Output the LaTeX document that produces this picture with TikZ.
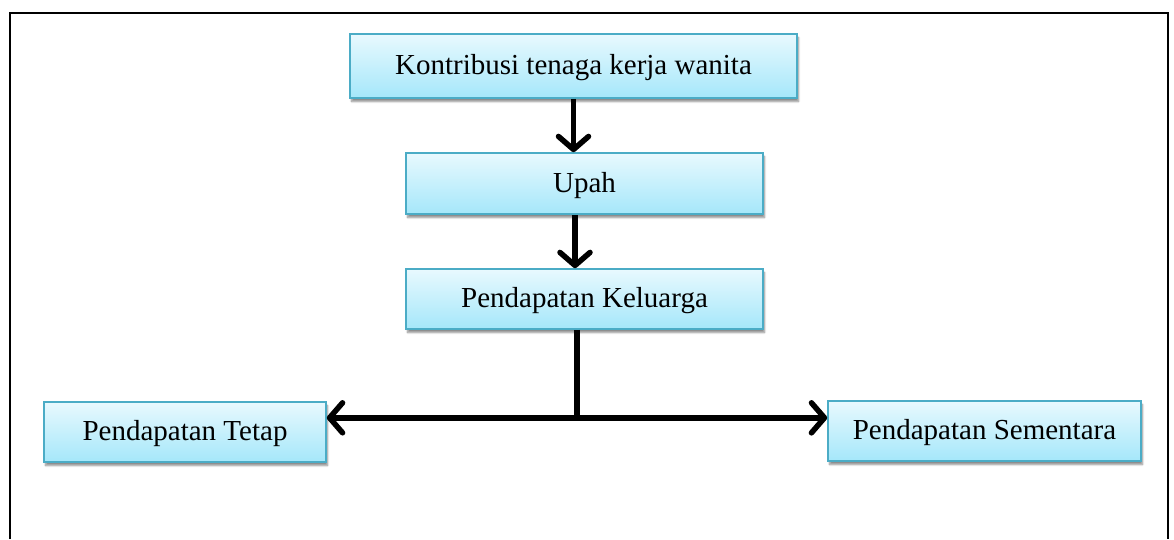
\documentclass[tikz,border=0pt]{standalone}
\usepackage{fontspec}
\setmainfont{Liberation Serif}
\usetikzlibrary{arrows.meta,shadows.blur,calc}
\definecolor{boxtop}{RGB}{232,249,254}
\definecolor{boxbot}{RGB}{165,231,250}
\definecolor{boxline}{RGB}{75,172,198}
\newcommand{\lowtext}[1]{\raisebox{-2pt}[\height][\depth]{#1}}
\tikzset{
  flowbox/.style={draw=boxline, line width=1.6pt, top color=boxtop, bottom color=boxbot,
    inner sep=0pt, font=\fontsize{29}{34}\selectfont, text=black,
    blur shadow={shadow xshift=1.5pt, shadow yshift=-3.5pt, shadow blur steps=6, shadow opacity=45}},
  conn/.style={line width=5.5pt, black},
  tip/.style={-{Straight Barb[length=13pt,width=30pt,line width=5.5pt,round]}},
  frameline/.style={line width=2.6pt, black}
}
\begin{document}
\begin{tikzpicture}[x=1pt,y=-1pt]
\useasboundingbox (0,0) rectangle (1174,539);
\draw[frameline] (10,539) -- (10,13) -- (1168,13) -- (1168,539);
\node[flowbox, minimum width=447pt, minimum height=64pt] (b1) at (573.5,66) {\lowtext{Kontribusi tenaga kerja wanita}};
\node[flowbox, minimum width=357pt, minimum height=61pt] (b2) at (584.5,183.5) {\lowtext{Upah}};
\node[flowbox, minimum width=357pt, minimum height=60pt] (b3) at (584.5,299) {\lowtext{Pendapatan Keluarga}};
\node[flowbox, minimum width=282pt, minimum height=60pt] (b4) at (185,432) {\lowtext{Pendapatan Tetap}};
\node[flowbox, minimum width=313pt, minimum height=60pt] (b5) at (984.5,431) {\lowtext{Pendapatan Sementara}};
\coordinate (j) at ($(b3.south)+(-7.5,88)$);
\draw[conn,tip] (b1.south) -- (b1.south |- b2.north);
\draw[conn,tip] ([xshift=-9.5pt]b2.south) -- ([xshift=-9.5pt]b3.north);
\draw[conn] ([xshift=-7.5pt]b3.south) -- (j);
\draw[conn,tip] ([xshift=2.75pt]j) -- (b4.east |- j);
\draw[conn,tip] ([xshift=-2.75pt]j) -- (b5.west |- j);
\end{tikzpicture}
\end{document}
